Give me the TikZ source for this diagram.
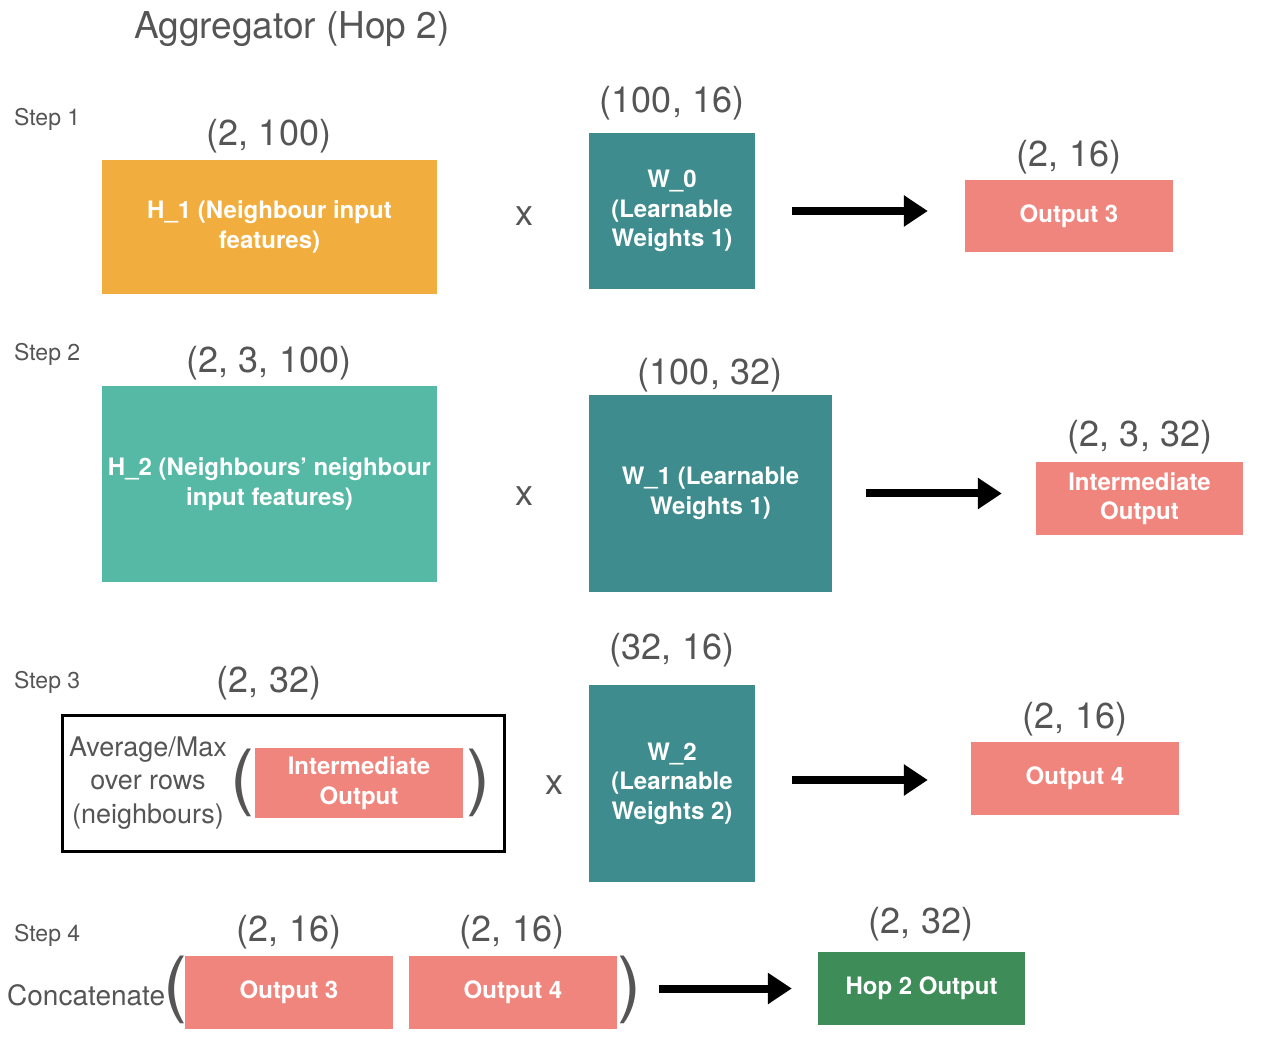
\documentclass[tikz,border=0pt]{standalone}
\usepackage{fontspec}
\setmainfont{TeX Gyre Heros}
\usetikzlibrary{arrows.meta}
\definecolor{tgrey}{HTML}{555555}
\definecolor{horange}{HTML}{F1AE3E}
\definecolor{hteal}{HTML}{56B9A5}
\definecolor{wteal}{HTML}{3F8C8E}
\definecolor{osalmon}{HTML}{F0857D}
\definecolor{hgreen}{HTML}{3E8C58}

\begin{document}
\begin{tikzpicture}[x=1pt,y=-1pt,
  every node/.style={text=tgrey,inner sep=0pt},
  blk/.style={text=white,align=center,font=\bfseries\fontsize{24}{29.5}\selectfont},
  dim/.style={yshift=-3pt,font=\fontsize{36}{40}\selectfont},
  steplbl/.style={anchor=west,yshift=-2pt,font=\fontsize{23}{26}\selectfont},
  paren/.style={font=\fontsize{72}{76}\selectfont},
  arr/.style={line width=8pt,-{Triangle[length=24pt,width=30pt]}}]
  \useasboundingbox (0,0) rectangle (1278,1040);

  \node[yshift=-3pt,font=\fontsize{37}{42}\selectfont] (title) at (292,26) {Aggregator (Hop 2)};

  % step 1
  \node[steplbl] (s1) at (14,117) {Step 1};
  \node[blk,fill=horange,minimum width=335pt,minimum height=134pt] (h1) at (269.5,227) {H\_1 (Neighbour input\\features)};
  \node[dim] at (269,133) {(2, 100)};
  \node[dim] at (524,213) {x};
  \node[blk,fill=wteal,minimum width=166pt,minimum height=156pt] (w0) at (672,211) {W\_0\\(Learnable\\Weights 1)};
  \node[dim] at (672,100) {(100, 16)};
  \node[blk,fill=osalmon,minimum width=208pt,minimum height=72pt] (out3) at (1069,216) {Output 3};
  \node[dim] at (1069,154) {(2, 16)};
  \draw[arr,shorten <=37pt,shorten >=37pt] (w0.east) -- (w0.east -| out3.west);

  % step 2
  \node[steplbl] (s2) at (14,352) {Step 2};
  \node[blk,fill=hteal,minimum width=335pt,minimum height=196pt] (h2) at (269.5,484) {H\_2 (Neighbours’ neighbour\\input features)};
  \node[dim] at (269,360) {(2, 3, 100)};
  \node[dim] at (524,493) {x};
  \node[blk,fill=wteal,minimum width=243pt,minimum height=197pt] (w1) at (710.5,493.5) {W\_1 (Learnable\\Weights 1)};
  \node[dim] at (710,372) {(100, 32)};
  \node[blk,fill=osalmon,minimum width=207pt,minimum height=73pt] (inter) at (1139.5,498.5) {Intermediate\\Output};
  \node[dim] at (1140,434) {(2, 3, 32)};
  \draw[arr,shorten <=34pt,shorten >=34pt] (w1.east) -- (w1.east -| inter.west);

  % step 3
  \node[steplbl] (s3) at (14,680) {Step 3};
  \node[draw=black,line width=3pt,minimum width=442pt,minimum height=136pt] (agg) at (283,783) {};
  \node[align=center,yshift=-2pt,font=\fontsize{27}{33.5}\selectfont] (avg) at (148,781) {Average/Max\\over rows\\(neighbours)};
  \node[paren] (lp3) at (242,783) {(};
  \node[blk,fill=osalmon,minimum width=208pt,minimum height=70pt] (pool) at (359,783) {Intermediate\\Output};
  \node[paren] (rp3) at (478,783) {)};
  \node[dim] at (269,680) {(2, 32)};
  \node[dim] at (554,782) {x};
  \node[blk,fill=wteal,minimum width=166pt,minimum height=197pt] (w2) at (672,783.5) {W\_2\\(Learnable\\Weights 2)};
  \node[dim] at (672,647) {(32, 16)};
  \node[blk,fill=osalmon,minimum width=208pt,minimum height=73pt] (out4) at (1075,778.5) {Output 4};
  \node[dim] at (1075,716) {(2, 16)};
  \draw[arr,shorten <=37pt,shorten >=43pt] (w2.east |- 0,780) -- (out4.west |- 0,780);

  % step 4
  \node[steplbl] (s4) at (14,933) {Step 4};
  \node[anchor=west,yshift=-2pt,font=\fontsize{28}{30}\selectfont] (cat) at (7,993) {Concatenate};
  \node[paren] (lp4) at (175,990) {(};
  \node[blk,fill=osalmon,minimum width=208pt,minimum height=73pt] (c3) at (289,992.5) {Output 3};
  \node[blk,fill=osalmon,minimum width=208pt,minimum height=73pt] (c4) at (513,992.5) {Output 4};
  \node[paren] (rp4) at (629,990) {)};
  \node[dim] at (289,929) {(2, 16)};
  \node[dim] at (512,929) {(2, 16)};
  \node[blk,fill=hgreen,minimum width=207pt,minimum height=73pt] (hop2) at (921.5,988.5) {Hop 2 Output};
  \node[dim] at (921,921) {(2, 32)};
  \draw[arr,shorten <=18pt,shorten >=26pt] (rp4.east |- hop2.west) -- (hop2.west);
\end{tikzpicture}
\end{document}
